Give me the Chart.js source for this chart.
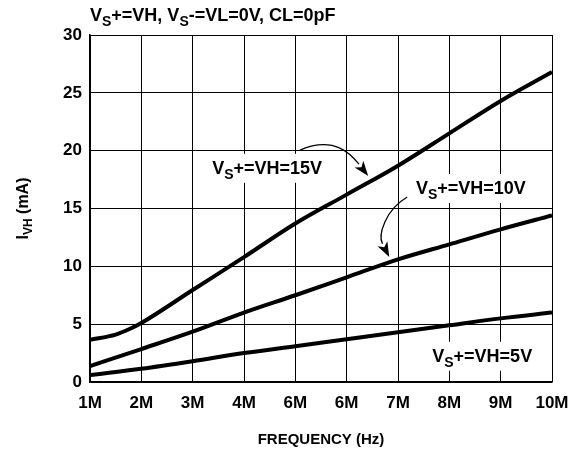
<!DOCTYPE html>
<html>
<head>
<meta charset="utf-8">
<script src="https://cdn.jsdelivr.net/npm/chart.js@4.4.1/dist/chart.umd.min.js"></script>
<style>
  html, body { margin: 0; padding: 0; background: #fff; }
  #wrap { width: 580px; height: 450px; position: relative; }
</style>
</head>
<body>
<div id="wrap"><canvas id="c" width="580" height="450"></canvas></div>
<script>
// ---- data ----
const xTickLabels = ["1M", "2M", "3M", "4M", "6M", "6M", "7M", "8M", "9M", "10M"];
const yTickValues = [0, 5, 10, 15, 20, 25, 30];

const freq15 = [1, 1.5, 1.78, 2, 3, 4, 5, 6, 7, 8, 9, 10];
const ivh15  = [3.65, 4.1, 4.6, 5.1, 7.95, 10.8, 13.7, 16.2, 18.7, 21.5, 24.3, 26.8];

const freq10 = [1, 2, 3, 4, 5, 6, 7, 8, 9, 10];
const ivh10  = [1.38, 2.85, 4.35, 6.0, 7.5, 9.05, 10.6, 11.9, 13.2, 14.4];

const freq5  = [1, 2, 3, 4, 5, 6, 7, 8, 9, 10];
const ivh5   = [0.6, 1.15, 1.8, 2.5, 3.1, 3.7, 4.3, 4.9, 5.5, 6.0];

const seriesNames = ["VS+=VH=15V", "VS+=VH=10V", "VS+=VH=5V"];

// annotation anchors in data units (frequency in MHz, current in mA): text centre x, baseline y
const labelAnchors = [
  { x: 4.45, y: 18.0 },
  { x: 8.42, y: 16.25 },
  { x: 8.64, y: 1.75 }
];
const arrowPaths = [
  [{x: 5.09, y: 20.05}, {x: 5.77, y: 21.35}, {x: 6.10, y: 19.62}, {x: 6.42, y: 17.81}],
  [{x: 7.18, y: 15.99}, {x: 6.75, y: 14.87}, {x: 6.61, y: 12.71}, {x: 6.83, y: 10.80}]
];

const FONT = "'Liberation Sans', Arial, Helvetica, sans-serif";
const LABEL_SIZE = 18;

function toPoints(xs, ys) { return xs.map((x, i) => ({ x: x, y: ys[i] })); }

function measurePieces(ctx, pieces, size) {
  const subSize = Math.round(size * 0.78);
  let total = 0;
  pieces.forEach(p => {
    ctx.font = "bold " + (p[1] ? subSize : size) + "px " + FONT;
    total += ctx.measureText(p[0]).width;
  });
  return total;
}

// pieces: [text, isSubscript]
function drawPieces(ctx, pieces, x, y, size, align) {
  const subSize = Math.round(size * 0.78);
  const total = measurePieces(ctx, pieces, size);
  let cx = align === "center" ? x - total / 2 : x;
  ctx.textBaseline = "alphabetic";
  ctx.textAlign = "left";
  pieces.forEach(p => {
    ctx.font = "bold " + (p[1] ? subSize : size) + "px " + FONT;
    ctx.fillText(p[0], cx, y + (p[1] ? size * 0.28 : 0));
    cx += ctx.measureText(p[0]).width;
  });
  return total;
}

function splitName(name) {
  return [["V", false], ["S", true], [name.slice(2), false]];
}

const annotPlugin = {
  id: "annot",
  beforeDatasetsDraw(chart) {
    const { ctx, scales } = chart;
    ctx.save();
    seriesNames.forEach((name, i) => {
      const a = labelAnchors[i];
      const px = scales.x.getPixelForValue(a.x);
      const py = scales.y.getPixelForValue(a.y);
      const w = measurePieces(ctx, splitName(name), LABEL_SIZE);
      ctx.fillStyle = "#fff";
      ctx.fillRect(px - w / 2 - 12, py - 20, w + 24, 29);
    });
    ctx.restore();
  },
  afterDatasetsDraw(chart) {
    const { ctx, scales } = chart;
    ctx.save();
    ctx.fillStyle = "#000";
    seriesNames.forEach((name, i) => {
      const a = labelAnchors[i];
      const px = scales.x.getPixelForValue(a.x);
      const py = scales.y.getPixelForValue(a.y);
      drawPieces(ctx, splitName(name), px, py, LABEL_SIZE, "center");
    });
    arrowPaths.forEach(path => {
      const p = path.map(q => ({ x: scales.x.getPixelForValue(q.x), y: scales.y.getPixelForValue(q.y) }));
      const ang = Math.atan2(p[3].y - p[2].y, p[3].x - p[2].x);
      const head = 15, half = 5.5;
      const bx = p[3].x - head * Math.cos(ang), by = p[3].y - head * Math.sin(ang);
      ctx.strokeStyle = "#000";
      ctx.lineWidth = 1.3;
      ctx.beginPath();
      ctx.moveTo(p[0].x, p[0].y);
      ctx.bezierCurveTo(p[1].x, p[1].y, p[2].x, p[2].y, bx, by);
      ctx.stroke();
      ctx.beginPath();
      ctx.moveTo(p[3].x, p[3].y);
      ctx.lineTo(bx + half * Math.sin(ang), by - half * Math.cos(ang));
      ctx.lineTo(bx + 4 * Math.cos(ang), by + 4 * Math.sin(ang));
      ctx.lineTo(bx - half * Math.sin(ang), by + half * Math.cos(ang));
      ctx.closePath();
      ctx.fill();
    });
    ctx.restore();
  },
  afterDraw(chart) {
    const { ctx, chartArea } = chart;
    ctx.save();
    ctx.fillStyle = "#000";
    drawPieces(ctx, [["V", false], ["S", true], ["+=VH, V", false], ["S", true], ["-=VL=0V, CL=0pF", false]],
      chartArea.left, 21, 18, "left");
    ctx.font = "bold 15px " + FONT;
    ctx.textAlign = "center";
    ctx.textBaseline = "alphabetic";
    ctx.fillText("FREQUENCY (Hz)", (chartArea.left + chartArea.right) / 2, 444);
    ctx.translate(28, (chartArea.top + chartArea.bottom) / 2);
    ctx.rotate(-Math.PI / 2);
    drawPieces(ctx, [["I", false], ["VH", true], [" (mA)", false]], 0, 0, 16, "center");
    ctx.restore();
  }
};

const lineStyle = { borderColor: "#000", borderWidth: 4, pointRadius: 0, fill: false, cubicInterpolationMode: "monotone" };

new Chart(document.getElementById("c"), {
  type: "line",
  data: {
    datasets: [
      Object.assign({ label: seriesNames[0], data: toPoints(freq15, ivh15) }, lineStyle),
      Object.assign({ label: seriesNames[1], data: toPoints(freq10, ivh10) }, lineStyle),
      Object.assign({ label: seriesNames[2], data: toPoints(freq5, ivh5) }, lineStyle)
    ]
  },
  options: {
    responsive: false,
    animation: false,
    devicePixelRatio: 1,
    layout: { padding: { top: 35, right: 28, left: 0, bottom: 0 } },
    plugins: { legend: { display: false }, tooltip: { enabled: false }, title: { display: false } },
    scales: {
      x: {
        type: "linear",
        min: 1, max: 10,
        afterBuildTicks(scale) { scale.ticks = xTickLabels.map((_, i) => ({ value: i + 1 })); },
        afterFit(scale) { scale.height = 68; },
        ticks: {
          callback: (v, i) => xTickLabels[i],
          color: "#000",
          font: { family: FONT, size: 17, weight: "bold" },
          padding: 11,
          maxRotation: 0, autoSkip: false
        },
        grid: { color: "#000", lineWidth: 1, drawTicks: false },
        border: { color: "#000", width: 1.5 }
      },
      y: {
        min: 0, max: 30,
        afterBuildTicks(scale) { scale.ticks = yTickValues.map(v => ({ value: v })); },
        afterFit(scale) { scale.width = 90; },
        ticks: {
          color: "#000",
          font: { family: FONT, size: 17, weight: "bold" },
          padding: 8
        },
        grid: { color: "#000", lineWidth: 1, drawTicks: false },
        border: { color: "#000", width: 1.5 }
      }
    }
  },
  plugins: [annotPlugin]
});
</script>
</body>
</html>
